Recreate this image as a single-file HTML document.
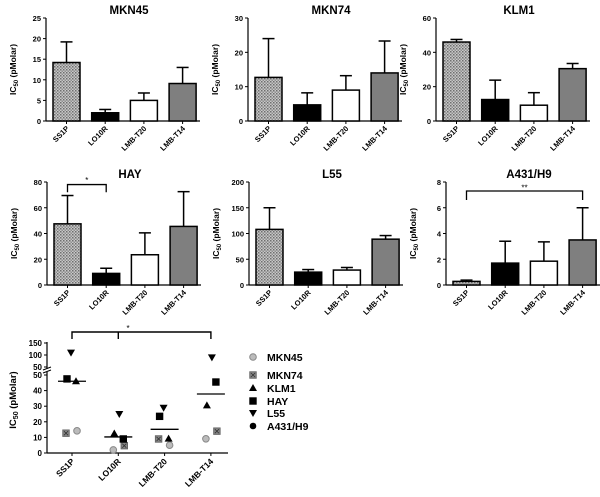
<!DOCTYPE html>
<html><head><meta charset="utf-8"><style>
html,body{margin:0;padding:0;background:#fff;width:600px;height:497px;overflow:hidden}
svg{display:block;font-family:"Liberation Sans",Arial,sans-serif}
</style></head><body>
<svg id="fig" width="600" height="497" viewBox="0 0 600 497" xmlns="http://www.w3.org/2000/svg">
<defs>
<pattern id="dots" width="3" height="3" patternUnits="userSpaceOnUse"><rect width="3" height="3" fill="#c8c8c8"/><rect width="1.5" height="1.5" fill="#6e6e6e"/><rect x="1.5" y="1.5" width="1.5" height="1.5" fill="#8e8e8e"/></pattern>
</defs>
</svg>
<script>
const categories = ["SS1P","LO10R","LMB-T20","LMB-T14"];
const panelTitles = ["MKN45","MKN74","KLM1","HAY","L55","A431/H9"];
const yMaxes = [25,30,60,80,200,8];
const yTicks = [[0,5,10,15,20,25],[0,10,20,30],[0,20,40,60],[0,20,40,60,80],[0,50,100,150,200],[0,2,4,6,8]];
const meansMKN45 = [14.2,2.0,5.0,9.1];
const errMKN45 = [5.0,0.8,1.8,3.9];
const meansMKN74 = [12.7,4.7,9.0,14.0];
const errMKN74 = [11.3,3.5,4.2,9.3];
const meansKLM1 = [46.0,12.5,9.2,30.5];
const errKLM1 = [1.5,11.3,7.3,3.0];
const meansHAY = [47.5,9.0,23.5,45.5];
const errHAY = [22.0,4.0,17.0,27.0];
const meansL55 = [108,25,29,89];
const errL55 = [42,5,5,7];
const meansA431 = [0.28,1.7,1.85,3.5];
const errA431 = [0.1,1.7,1.5,2.5];
const scatterSeries = ["MKN45","MKN74","KLM1","HAY","L55","A431/H9"];
const scMKN45 = [14.2,2.0,5.0,9.1];
const scMKN74 = [12.7,4.7,9.0,14.0];
const scKLM1 = [46.0,12.5,9.2,30.5];
const scHAY = [47.5,9.0,23.5,45.5];
const scL55 = [110,25,29,90];
const scA431 = [0.28,1.7,1.85,3.5];
const groupMeans = [46,10.3,15.2,37.8];
const lowerTicks = [0,10,20,30,40,50];
const upperTicks = [50,100,150];

const NS="http://www.w3.org/2000/svg";
const svg=document.getElementById('fig');
function el(tag,attrs,parent,text){const e=document.createElementNS(NS,tag);for(const k in attrs)e.setAttribute(k,attrs[k]);if(text!==undefined)e.textContent=text;(parent||svg).appendChild(e);return e;}

const fills=["url(#dots)","#000","#fff","#7f7f7f"];
const panels=[
 {ax:46,top:18,bot:121,m:meansMKN45,e:errMKN45},
 {ax:248,top:18,bot:121,m:meansMKN74,e:errMKN74},
 {ax:436,top:18,bot:121,m:meansKLM1,e:errKLM1},
 {ax:47,top:182,bot:285,m:meansHAY,e:errHAY},
 {ax:249,top:182,bot:285,m:meansL55,e:errL55},
 {ax:446,top:182,bot:285,m:meansA431,e:errA431}
];
panels.forEach((p,i)=>{
  const g=el('g',{});
  
  
  const ymax=yMaxes[i];
  const y=v=>p.bot-(v/ymax)*(p.bot-p.top);
  const bx=k=>p.ax+7+k*38.7;
  const bw=27;
  const right=p.ax+154;
  const t=el('text',{x:p.ax+83,y:p.top-4,'text-anchor':'middle','font-size':'11.5','font-weight':'bold'},g,panelTitles[i]);
  
  
  const ya=el('line',{x1:p.ax,y1:p.top,x2:p.ax,y2:p.bot,stroke:'#000','stroke-width':1.2},g);
  
  
  const xa=el('line',{x1:p.ax,y1:p.bot,x2:right,y2:p.bot,stroke:'#000','stroke-width':1.2},g);
  
  
  yTicks[i].forEach(v=>{
    el('line',{x1:p.ax-3,y1:y(v),x2:p.ax,y2:y(v),stroke:'#000','stroke-width':1},g);
    const tl=el('text',{x:p.ax-5,y:y(v)+3,'text-anchor':'end','font-size':'7.5','font-weight':'bold'},g,String(v));
    
    
  });
  const cy=(p.top+p.bot)/2;
  const yt=el('text',{x:p.ax-30,y:cy,'text-anchor':'middle','font-size':'8.5','font-weight':'bold',transform:`rotate(-90 ${p.ax-30} ${cy})`},g);
  
  
  yt.innerHTML='IC<tspan font-size="6" dy="2">50</tspan><tspan dy="-2"> (pMolar)</tspan>';
  categories.forEach((c,k)=>{
    const x0=bx(k), cx=x0+bw/2;
    const top=y(p.e[k]+p.m[k]);
    const eb=el('line',{x1:cx,y1:y(p.m[k]),x2:cx,y2:top,stroke:'#000','stroke-width':1.5},g);
    
    
    el('line',{x1:cx-6,y1:top,x2:cx+6,y2:top,stroke:'#000','stroke-width':1.5},g);
    const r=el('rect',{x:x0,y:y(p.m[k]),width:bw,height:p.bot-y(p.m[k]),fill:fills[k],stroke:'#000','stroke-width':1.5},g);
    
    
    el('line',{x1:cx,y1:p.bot,x2:cx,y2:p.bot+3,stroke:'#000'},g);
    const lx=cx+3, ly=p.bot+8;
    const xl=el('text',{x:lx,y:ly,'text-anchor':'end','font-size':'7.5','font-weight':'bold',transform:`rotate(-45 ${lx} ${ly})`},g,c);
    
    
  });
  if(i===3){
    const b=el('path',{d:`M${bx(0)+13.5} ${y(72)} V${y(78)} H${bx(1)+13.5} V${y(72)}`,fill:'none',stroke:'#000','stroke-width':1.3},g);
    
    
    el('text',{x:(bx(0)+bx(1))/2+13.5,y:y(80)+1,'text-anchor':'middle','font-size':'8'},g,'*');
  }
  if(i===5){
    const b=el('path',{d:`M${bx(0)+13.5} ${y(6.6)} V${y(7.3)} H${bx(3)+13.5} V${y(6.6)}`,fill:'none',stroke:'#000','stroke-width':1.3},g);
    
    
    el('text',{x:(bx(0)+bx(3))/2+13.5,y:y(7.4)+1,'text-anchor':'middle','font-size':'8'},g,'**');
  }
});

const sg=el('g',{});


const AX=47, BOT=453, L50=375, U50=367, U150=343;
function sy(v){ if(v<=50) return BOT-(v/50)*(BOT-L50); return U50-((v-50)/100)*(U50-U150); }
const catX=k=>72+k*46.3;
const ax1=el('line',{x1:AX,y1:BOT,x2:AX,y2:372,stroke:'#000','stroke-width':1.2},sg);


const ax2=el('line',{x1:AX,y1:369,x2:AX,y2:U150-1,stroke:'#000','stroke-width':1.2},sg);


el('line',{x1:AX-4,y1:373,x2:AX+4,y2:370,stroke:'#000','stroke-width':1},sg);
el('line',{x1:AX-4,y1:370,x2:AX+4,y2:367,stroke:'#000','stroke-width':1},sg);
const sx=el('line',{x1:AX,y1:BOT,x2:228,y2:BOT,stroke:'#000','stroke-width':1.2},sg);


lowerTicks.forEach(v=>{el('line',{x1:AX-3,y1:sy(v),x2:AX,y2:sy(v),stroke:'#000'},sg);
 const t=el('text',{x:AX-5,y:sy(v)+3,'text-anchor':'end','font-size':'8','font-weight':'bold'},sg,String(v));
 
 });
upperTicks.forEach((v,j)=>{const yy=j===0?U50:sy(v);el('line',{x1:AX-3,y1:yy,x2:AX,y2:yy,stroke:'#000'},sg);
 const t=el('text',{x:AX-5,y:yy+3,'text-anchor':'end','font-size':'8','font-weight':'bold'},sg,String(v));
 
 });
const syt=el('text',{x:16,y:400,'text-anchor':'middle','font-size':'9.5','font-weight':'bold',transform:'rotate(-90 16 400)'},sg);


syt.innerHTML='IC<tspan font-size="7" dy="2">50</tspan><tspan dy="-2"> (pMolar)</tspan>';
categories.forEach((c,k)=>{
  const cx=catX(k);
  el('line',{x1:cx,y1:BOT,x2:cx,y2:BOT+3,stroke:'#000'},sg);
  const lx=cx+3, ly=BOT+9;
  const t=el('text',{x:lx,y:ly,'text-anchor':'end','font-size':'8.5','font-weight':'bold',transform:`rotate(-45 ${lx} ${ly})`},sg,c);
  
  
  const m=el('line',{x1:cx-14,y1:sy(groupMeans[k]),x2:cx+14,y2:sy(groupMeans[k]),stroke:'#000','stroke-width':1.3},sg);
  
  
});
const offsets=[5,-6,4,-5,-1,0];
function marker(kind,x,y,parent){
  let e;
  if(kind===0){e=el('circle',{cx:x,cy:y,r:3.3,fill:'#bbb',stroke:'#888','stroke-width':1},parent);}
  else if(kind===1){e=el('rect',{x:x-3.2,y:y-3.2,width:6.4,height:6.4,fill:'#888',stroke:'#666'},parent);
    el('path',{d:`M${x-2} ${y-2}L${x+2} ${y+2}M${x+2} ${y-2}L${x-2} ${y+2}`,stroke:'#333','stroke-width':0.8},parent);}
  else if(kind===2){e=el('path',{d:`M${x} ${y-4}L${x+4} ${y+3}L${x-4} ${y+3}Z`,fill:'#000'},parent);}
  else if(kind===3){e=el('rect',{x:x-3.7,y:y-3.7,width:7.4,height:7.4,fill:'#000'},parent);}
  else if(kind===4){e=el('path',{d:`M${x-4} ${y-3}L${x+4} ${y-3}L${x} ${y+4}Z`,fill:'#000'},parent);}
  else {e=el('circle',{cx:x,cy:y,r:3.3,fill:'#000'},parent);}
  return e;
}
const scData=[scMKN45,scMKN74,scKLM1,scHAY,scL55,scA431];
scData.forEach((arr,s)=>{
  if(s===5) return;
  arr.forEach((v,k)=>{
    const e=marker(s,catX(k)+offsets[s]*(k%2?-1:1),sy(v),sg);
    
    
  });
});
const br=el('path',{d:`M${catX(0)} 339 V332 H${catX(3)} V339 M${catX(1)} 332 V339`,fill:'none',stroke:'#000','stroke-width':1.4},sg);


el('text',{x:128,y:331,'text-anchor':'middle','font-size':'8'},sg,'*');
const lg=el('g',{});


const legY=[357,375,388,401,413,426];
scatterSeries.forEach((n,s)=>{
  const g=el('g',{},lg);
  
  
  marker(s,253,legY[s],g);
  el('text',{x:267,y:legY[s]+4,'font-size':'10.5','font-weight':'bold'},g,n);
});
</script>
</body></html>
